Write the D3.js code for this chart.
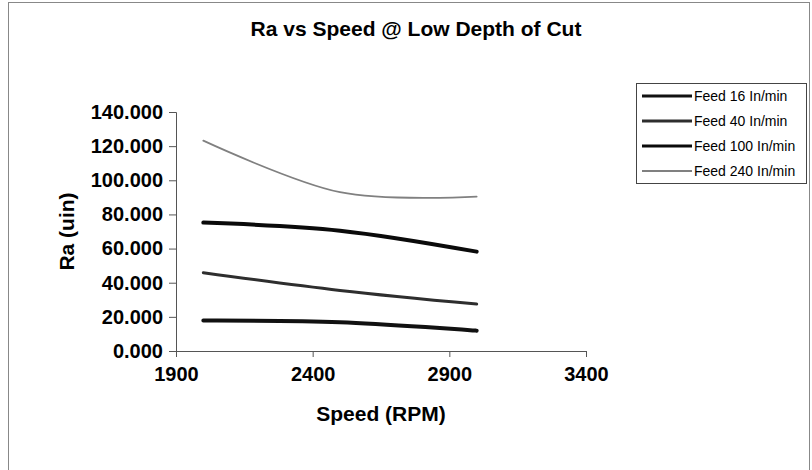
<!DOCTYPE html>
<html>
<head>
<meta charset="utf-8">
<script src="https://cdn.jsdelivr.net/npm/d3@7"></script>
<style>
  body { margin: 0; background: #fff; }
  svg { display: block; font-family: "Liberation Sans", Arial, sans-serif; }
  .tick text { font-size: 20px; font-weight: bold; fill: #000; }
  .axis path, .axis line { stroke: #555; }
</style>
</head>
<body>
<svg id="chart" width="812" height="470"></svg>
<script>
// data
const speeds = [2000, 2500, 3000]
const seriesNames = ['Feed 16 In/min', 'Feed 40 In/min', 'Feed 100 In/min', 'Feed 240 In/min']
const feed16  = [17.8, 16.9, 11.9]
const feed40  = [45.9, 35.5, 27.5]
const feed100 = [75.2, 70.5, 58.2]
const feed240 = [123.2, 93.0, 90.4]
const xTicks = [1900, 2400, 2900, 3400]
const yTicks = [0, 20, 40, 60, 80, 100, 120, 140]

const series = [feed16, feed40, feed100, feed240]
const lineStyle = [
    { stroke: '#111', width: 4 },
    { stroke: '#2e2e2e', width: 3 },
    { stroke: '#0a0a0a', width: 4 },
    { stroke: '#808080', width: 1.8 }
]

const svg = d3.select('#chart')

// outer frame (scan shows left + top edge)
svg.append('rect')
    .attr('x', 8.5).attr('y', 2.5)
    .attr('width', 801).attr('height', 500)
    .attr('fill', 'none').attr('stroke', '#888')

const x = d3.scaleLinear().domain([1900, 3400]).range([176, 586])
const y = d3.scaleLinear().domain([0, 140]).range([351, 112])

// axes
svg.append('g').attr('class', 'axis')
    .attr('transform', `translate(0,${y(0)})`)
    .call(d3.axisBottom(x).tickValues(xTicks).tickSize(6).tickPadding(10).tickFormat(d3.format('d')))

svg.append('g').attr('class', 'axis')
    .attr('transform', `translate(${x(1900)},0)`)
    .call(d3.axisLeft(y).tickValues(yTicks).tickSize(7).tickPadding(6).tickFormat(d3.format('.3f')))

// lines, smoothed like the spreadsheet original
const line = d3.line()
    .x((d, i) => x(speeds[i]))
    .y(d => y(d))
    .curve(d3.curveCardinal.tension(0))

series.forEach((vals, i) => {
    svg.append('path')
        .datum(vals)
        .attr('d', line)
        .attr('fill', 'none')
        .attr('stroke', lineStyle[i].stroke)
        .attr('stroke-width', lineStyle[i].width)
        .attr('stroke-linecap', 'round')
})

// titles
svg.append('text')
    .attr('x', 416).attr('y', 36)
    .attr('text-anchor', 'middle')
    .style('font-size', '21px').style('font-weight', 'bold')
    .text('Ra vs Speed @ Low Depth of Cut')

svg.append('text')
    .attr('x', 381).attr('y', 421)
    .attr('text-anchor', 'middle')
    .style('font-size', '21px').style('font-weight', 'bold')
    .text('Speed (RPM)')

svg.append('text')
    .attr('transform', `translate(74,${(y(0) + y(140)) / 2}) rotate(-90)`)
    .attr('text-anchor', 'middle')
    .style('font-size', '21px').style('font-weight', 'bold')
    .text('Ra (uin)')

// legend
const legend = svg.append('g').attr('transform', 'translate(636,83)')
legend.append('rect')
    .attr('x', 0.5).attr('y', 0.5)
    .attr('width', 170).attr('height', 100)
    .attr('fill', '#fff').attr('stroke', '#444')

seriesNames.forEach((name, i) => {
    const row = legend.append('g').attr('transform', `translate(0,${13 + i * 25})`)
    row.append('line')
        .attr('x1', 6).attr('x2', 56)
        .attr('stroke', lineStyle[i].stroke)
        .attr('stroke-width', Math.min(lineStyle[i].width, 3))
    row.append('text')
        .attr('x', 58).attr('dy', '0.35em')
        .style('font-size', '14px')
        .text(name)
})
</script>
</body>
</html>
